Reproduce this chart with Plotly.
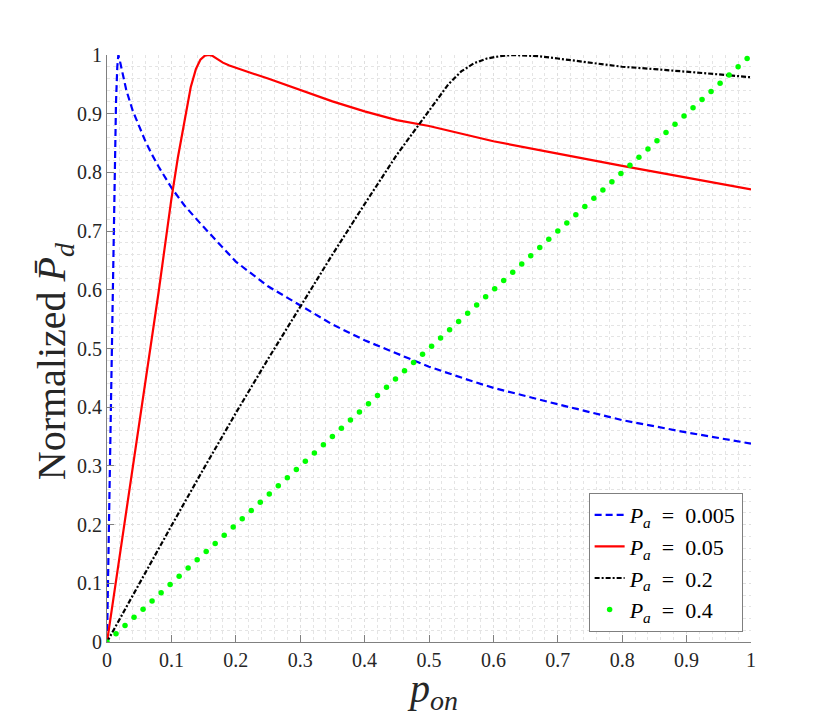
import plotly.graph_objects as go

# P_a = 0.005 (blue, dashed)
blue_x = [0, 0.003, 0.006, 0.009, 0.012, 0.014, 0.016, 0.0176, 0.02, 0.025, 0.03,
          0.04, 0.05, 0.06, 0.07, 0.08, 0.1, 0.12, 0.145, 0.17, 0.2, 0.25, 0.3,
          0.35, 0.4, 0.455, 0.5, 0.565, 0.6, 0.7, 0.78, 0.8, 0.9, 1.0]
blue_y = [0, 0.2, 0.41, 0.615, 0.81, 0.92, 0.98, 1.0, 0.99, 0.965, 0.94,
          0.905, 0.877, 0.852, 0.83, 0.81, 0.774, 0.744, 0.713, 0.684, 0.648, 0.606, 0.573,
          0.541, 0.514, 0.489, 0.469, 0.445, 0.433, 0.405, 0.383, 0.378, 0.357, 0.338]

# P_a = 0.05 (red, solid)
red_x = [0, 0.02, 0.05, 0.08, 0.1, 0.11, 0.12, 0.13, 0.138, 0.145, 0.152, 0.158, 0.163,
         0.17, 0.18, 0.19, 0.2, 0.225, 0.25, 0.3, 0.35, 0.4, 0.45, 0.5, 0.6, 0.7,
         0.78, 0.8, 0.9, 1.0]
red_y = [0, 0.148, 0.37, 0.595, 0.755, 0.825, 0.885, 0.945, 0.976, 0.992, 0.999, 1.0, 0.999,
         0.994, 0.987, 0.982, 0.978, 0.969, 0.96, 0.94, 0.921, 0.904, 0.889, 0.879, 0.853, 0.832,
         0.815, 0.811, 0.791, 0.771]

# P_a = 0.2 (black, dash-dot)
black_x = [0, 0.05, 0.1, 0.15, 0.2, 0.25, 0.3, 0.35, 0.4, 0.45, 0.5, 0.53, 0.55,
           0.57, 0.59, 0.61, 0.63, 0.65, 0.67, 0.7, 0.75, 0.8, 0.85, 0.9, 0.95, 1.0]
black_y = [0, 0.1, 0.198, 0.295, 0.39, 0.482, 0.572, 0.66, 0.746, 0.83, 0.905, 0.95, 0.972,
           0.986, 0.994, 0.998, 1.0, 0.9995, 0.998, 0.994, 0.987, 0.98, 0.976, 0.972, 0.967, 0.962]

# P_a = 0.4 (green dots)
green_x = [0, 0.014, 0.028, 0.042, 0.056, 0.07, 0.084, 0.098, 0.112, 0.126, 0.14, 0.154,
           0.168, 0.182, 0.196, 0.21, 0.224, 0.238, 0.252, 0.266, 0.28, 0.294, 0.308, 0.322,
           0.336, 0.35, 0.364, 0.378, 0.392, 0.406, 0.42, 0.434, 0.448, 0.462, 0.476, 0.49,
           0.504, 0.518, 0.532, 0.546, 0.56, 0.574, 0.588, 0.602, 0.616, 0.63, 0.644, 0.658,
           0.672, 0.686, 0.7, 0.714, 0.728, 0.742, 0.756, 0.77, 0.784, 0.798, 0.812, 0.826,
           0.84, 0.854, 0.868, 0.882, 0.896, 0.91, 0.924, 0.938, 0.952, 0.966, 0.98, 0.994]
green_y = list(green_x)

tick_vals = [0, 0.1, 0.2, 0.3, 0.4, 0.5, 0.6, 0.7, 0.8, 0.9, 1]
tick_text = ['0', '0.1', '0.2', '0.3', '0.4', '0.5', '0.6', '0.7', '0.8', '0.9', '1']

SERIF = 'Liberation Serif'
EQ = '\u2002=\u2002'

fig = go.Figure()
fig.add_trace(go.Scatter(x=blue_x, y=blue_y, mode='lines',
                         line=dict(color='#0000ff', width=2.2, dash='7px,4px'),
                         name='<i>P</i><sub><i>a</i></sub>' + EQ + '0.005'))
fig.add_trace(go.Scatter(x=red_x, y=red_y, mode='lines',
                         line=dict(color='#ff0000', width=2.2),
                         name='<i>P</i><sub><i>a</i></sub>' + EQ + '0.05'))
fig.add_trace(go.Scatter(x=black_x, y=black_y, mode='lines',
                         line=dict(color='#000000', width=2.2, dash='5px,2px,2px,2px'),
                         name='<i>P</i><sub><i>a</i></sub>' + EQ + '0.2'))
fig.add_trace(go.Scatter(x=green_x, y=green_y, mode='markers',
                         marker=dict(color='#00ff00', size=5.5),
                         name='<i>P</i><sub><i>a</i></sub>' + EQ + '0.4'))

axis_common = dict(
    range=[0, 1],
    tickvals=tick_vals,
    ticktext=tick_text,
    ticks='inside',
    ticklen=7,
    tickcolor='#808080',
    showline=True,
    linecolor='#808080',
    linewidth=1,
    zeroline=False,
    showgrid=True,
    gridcolor='#dedede',
    griddash='dot',
    gridwidth=1,
    minor=dict(dtick=0.02, showgrid=True, gridcolor='#e4e4e4', griddash='dot', gridwidth=1),
    tickfont=dict(family=SERIF, size=20, color='#262626'),
)
fig.update_xaxes(**axis_common)
fig.update_yaxes(**axis_common)

fig.add_annotation(text='<i>p</i><sub><i>on</i></sub>', xref='paper', yref='paper',
                   x=0.505, y=-0.13, xanchor='center', yanchor='bottom', showarrow=False,
                   font=dict(family=SERIF, size=40, color='#262626'))
fig.add_annotation(text='Normalized <i>P\u0304</i><sub><i>d</i></sub>', xref='paper', yref='paper',
                   x=-0.081, y=0.478, xanchor='center', yanchor='middle', showarrow=False,
                   textangle=-90,
                   font=dict(family=SERIF, size=40, color='#262626'))

# page has an 8px body margin, so the figure is a little smaller than the window
fig.update_layout(
    width=822,
    height=712,
    margin=dict(l=99, r=79, t=47, b=78),
    plot_bgcolor='white',
    paper_bgcolor='white',
    showlegend=True,
    legend=dict(
        x=0.987, y=0.017, xanchor='right', yanchor='bottom',
        bgcolor='white', bordercolor='#7f7f7f', borderwidth=1,
        font=dict(family=SERIF, size=22, color='#000000'),
        itemwidth=30, tracegroupgap=0,
    ),
)

fig.write_html("out.html")
